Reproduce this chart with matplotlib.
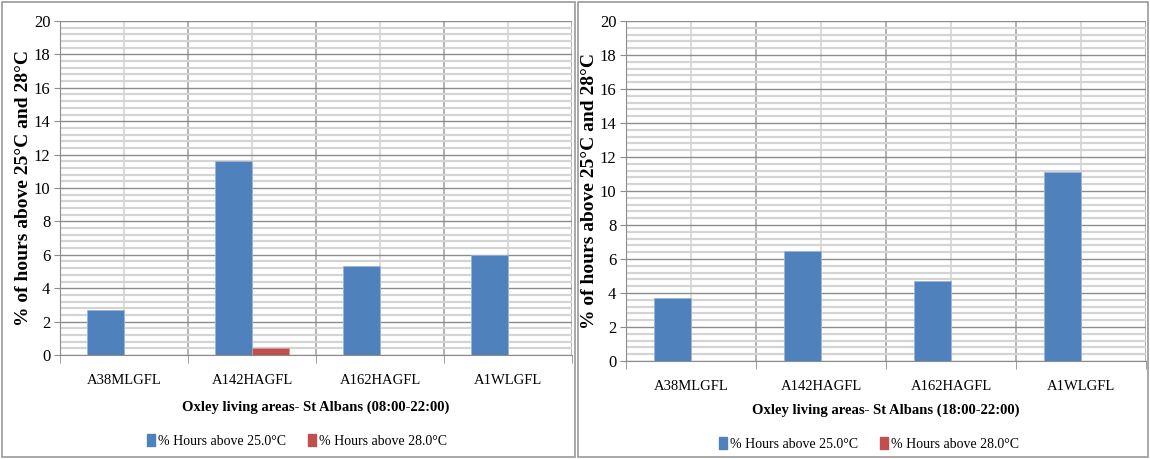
import matplotlib
matplotlib.use("Agg")
import matplotlib.pyplot as plt
import matplotlib.patches as mpatches
from matplotlib.ticker import MultipleLocator
import numpy as np

# ── data ──────────────────────────────────────────────────────────────────────
categories = ["A38MLGFL", "A142HAGFL", "A162HAGFL", "A1WLGFL"]
series_names = ["% Hours above 25.0°C", "% Hours above 28.0°C"]

day_25 = [2.7, 11.6, 5.3, 6.0]
day_28 = [0.0, 0.4, 0.0, 0.0]
eve_25 = [3.7, 6.5, 4.7, 11.1]
eve_28 = [0.0, 0.0, 0.0, 0.0]

titles = ["Oxley living areas- St Albans (08:00-22:00)",
          "Oxley living areas- St Albans (18:00-22:00)"]
ylabel = "% of hours above 25°C and 28°C"

# ── style ─────────────────────────────────────────────────────────────────────
BLUE = "#4F81BD"
RED = "#C0504D"
MAJOR_GRID = "#8C8C8C"
MINOR_GRID = "#D4D4D4"
SERIF = "Liberation Serif"

W, H = 1150, 459
fig = plt.figure(figsize=(W / 100, H / 100), dpi=100)


def px(x0, y0, x1, y1):
    """pixel box (top-left origin) -> figure fraction rect"""
    return [x0 / W, 1 - y1 / H, (x1 - x0) / W, (y1 - y0) / H]


def draw_panel(box, ax_box, s25, s28, title, label_y, legend_xy, ylab_x):
    # panel frame
    fig.patches.append(mpatches.Rectangle(
        (box[0] / W, 1 - box[3] / H), (box[2] - box[0]) / W, (box[3] - box[1]) / H,
        transform=fig.transFigure, fill=False, edgecolor="#9A9A9A", linewidth=1.2))

    ax = fig.add_axes(px(*ax_box))
    x = np.arange(len(categories))
    bw = 1 / 3.5
    ax.bar(x - bw / 2, s25, bw, color=BLUE, edgecolor="#9DB4D6", linewidth=0.6, zorder=3)
    ax.bar(x + bw / 2, s28, bw, color=RED, edgecolor="#D99694", linewidth=0.6, zorder=3)

    ax.set_xlim(-0.5, len(categories) - 0.5)
    ax.set_ylim(0, 20)

    ax.yaxis.set_major_locator(MultipleLocator(2))
    ax.yaxis.set_minor_locator(MultipleLocator(0.4))
    ax.set_xticks(x)
    ax.set_xticklabels(categories, fontfamily=SERIF, fontsize=10.5)
    ax.set_xticks(np.arange(-0.5, len(categories)), minor=True)

    ax.yaxis.grid(True, which="major", color=MAJOR_GRID, linewidth=1.0, zorder=0)
    ax.yaxis.grid(True, which="minor", color=MINOR_GRID, linewidth=1.6, zorder=0)
    ax.xaxis.grid(True, which="major", color=MINOR_GRID, linewidth=1.2, zorder=0)
    ax.xaxis.grid(True, which="minor", color="#A6A6A6", linewidth=1.2, zorder=0)
    ax.set_axisbelow(True)

    ax.tick_params(axis="x", which="major", length=0, pad=14)
    ax.tick_params(axis="x", which="minor", length=6, color="#8C8C8C", direction="out")
    ax.tick_params(axis="y", which="major", length=4, color="#8C8C8C", labelsize=12, pad=3)
    ax.tick_params(axis="y", which="minor", length=0)
    for t in ax.get_yticklabels():
        t.set_fontfamily(SERIF)

    for s in ("top", "right"):
        ax.spines[s].set_visible(False)
    ax.spines["left"].set_color("#8C8C8C")
    ax.spines["bottom"].set_color("#8C8C8C")

    fig.text(ylab_x / W, 1 - (ax_box[1] + ax_box[3]) / 2 / H, ylabel, rotation=90,
             ha="center", va="center", fontfamily=SERIF, fontweight="bold", fontsize=14)

    cx = (ax_box[0] + ax_box[2]) / 2
    fig.text(cx / W, 1 - label_y / H, title, ha="center", va="center",
             fontfamily=SERIF, fontweight="bold", fontsize=10.5)

    handles = [mpatches.Patch(color=BLUE, label=series_names[0]),
               mpatches.Patch(color=RED, label=series_names[1])]
    fig.legend(handles=handles, loc="center",
               bbox_to_anchor=(legend_xy[0] / W, 1 - legend_xy[1] / H),
               ncol=2, frameon=False, prop={"family": SERIF, "size": 10},
               handlelength=0.6, handleheight=0.9, handletextpad=0.2, columnspacing=1.6)
    return ax


draw_panel((2, 2, 575, 457), (60, 21, 572, 355), day_25, day_28, titles[0], 407, (297, 441), 24)
draw_panel((578, 2, 1148, 457), (626, 21, 1146, 361), eve_25, eve_28, titles[1], 410, (869, 444), 589)

fig.savefig("out.png", dpi=100)
